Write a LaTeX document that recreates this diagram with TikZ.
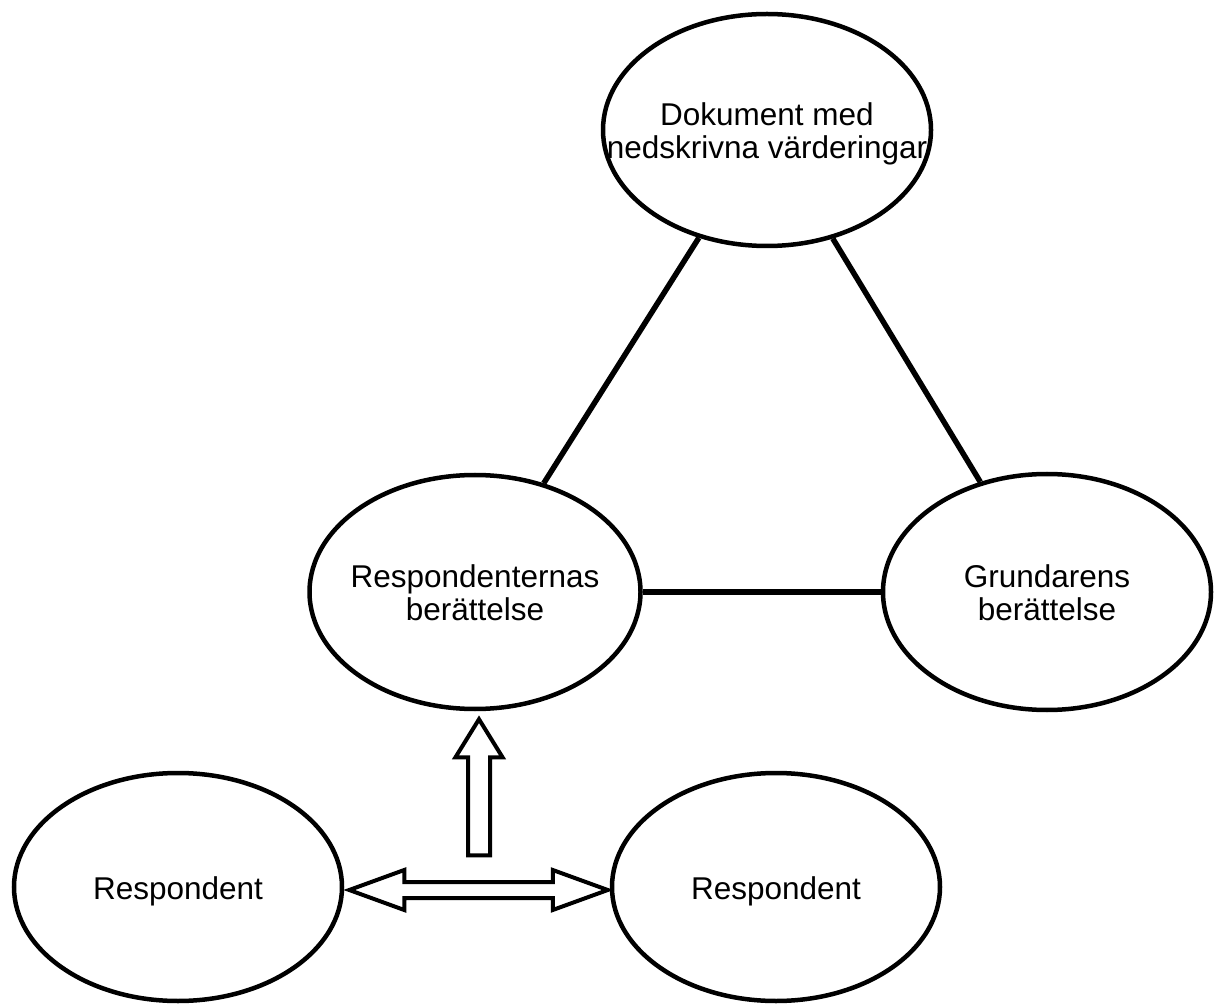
\documentclass[tikz,border=0pt]{standalone}
\usepackage{fontspec}
\setmainfont{Liberation Sans}
\usetikzlibrary{shapes.geometric, calc}
\newcommand{\otext}[1]{\raisebox{-6.5pt}[0pt][0pt]{\makebox[0pt]{\begin{tabular}{@{}c@{}}#1\end{tabular}}}}
\tikzset{
  oval/.style={draw, ellipse, line width=2.25pt, inner sep=0pt, minimum width=164pt, minimum height=116pt, font=\fontsize{15.75}{16.5}\selectfont},
  lowoval/.style={oval, minimum height=114pt},
  link/.style={line width=2.75pt},
  hollow/.style={draw, line width=2pt, fill=white, line join=miter}
}

\begin{document}
\begin{tikzpicture}[x=0.5pt, y=-0.5pt]
    \useasboundingbox (0,0) rectangle (1216,1005);
    \node[oval] (dok) at (767,130) {\otext{Dokument med\\nedskrivna värderingar}};
    \node[oval, minimum width=165.5pt, minimum height=117pt] (resp) at (475,592) {\otext{Respondenternas\\berättelse}};
    \node[oval, minimum height=118pt] (grund) at (1047,592) {\otext{Grundarens\\berättelse}};
    \node[lowoval] (r1) at (178,887) {\otext{Respondent}};
    \node[lowoval] (r2) at (776,887) {\otext{Respondent}};
    \draw[link] (dok) -- (resp);
    \draw[link] (dok) -- (grund);
    \draw[link, line width=3.25pt] (resp) -- (grund);
    % hollow arrows
    \coordinate (uptip) at ($(resp.south)+(4,8)$);
    \draw[hollow] (uptip) -- ++(23.5,38) -- ++(-12.5,0) -- ++(0,98) -- ++(-22,0) -- ++(0,-98) -- ++(-12.5,0) -- cycle;
    \coordinate (dl) at ($(r1.east)+(5,3)$);
    \coordinate (dr) at ($(r2.west)+(-2,3)$);
    \draw[hollow] (dl) -- ++(55,-20) -- ++(0,12) -- ($(dr)+(-55,-8)$) -- ++(0,-12) -- (dr)
        -- ++(-55,20) -- ++(0,-12) -- ($(dl)+(55,8)$) -- ++(0,12) -- cycle;
\end{tikzpicture}
\end{document}
